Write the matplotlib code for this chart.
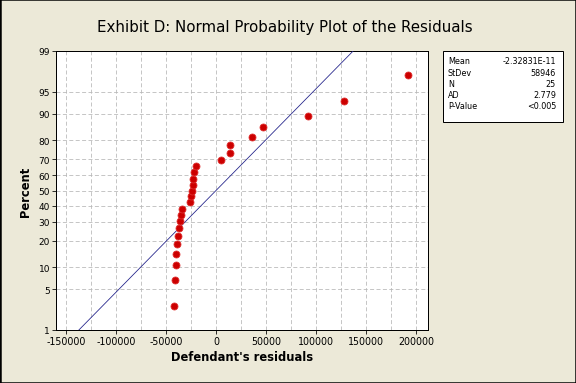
import numpy as np
import matplotlib
matplotlib.use("Agg")
import matplotlib.pyplot as plt
from matplotlib.patches import Rectangle
from statistics import NormalDist

# ---- data ----
residuals = [-41000, -41700, -40300, -39700, -39000, -38300, -37300, -36300, -35300, -33700,
             -26000, -25000, -24000, -23300, -22700, -22000, -20300,
             5000, 14000, 14300, 36000, 47000, 92000, 128000, 192000]
fit_mean = -2.32831e-11
fit_sd = 58946
stat_labels = ["Mean", "StDev", "N", "AD", "P-Value"]
stat_values = ["-2.32831E-11", "58946", "25", "2.779", "<0.005"]
y_ticks = [1, 5, 10, 20, 30, 40, 50, 60, 70, 80, 90, 95, 99]
x_ticks = [-150000, -100000, -50000, 0, 50000, 100000, 150000, 200000]

nd = NormalDist()
_inv = np.vectorize(lambda p: nd.inv_cdf(min(max(p / 100.0, 1e-9), 1 - 1e-9)), otypes=[float])
_cdf = np.vectorize(lambda z: nd.cdf(z) * 100.0, otypes=[float])

def fwd(p):
    return _inv(np.asarray(p, dtype=float))

def inv(z):
    return _cdf(np.asarray(z, dtype=float))

x = np.sort(np.array(residuals, dtype=float))
n = len(x)
pct = (np.arange(1, n + 1) - 0.3) / (n + 0.4) * 100.0

bg = "#ECE9D8"
fig = plt.figure(figsize=(8, 5.3333), dpi=72, facecolor=bg)
fig.add_artist(Rectangle((0, 0), 1, 1, transform=fig.transFigure, fill=False,
                         edgecolor="black", linewidth=2.5))

ax = fig.add_axes([56 / 576, 1 - 331 / 384, (428 - 56) / 576, (331 - 52) / 384])
ax.set_facecolor("white")
ax.set_yscale("function", functions=(fwd, inv))
ax.set_xlim(-160000, 212000)
ax.set_ylim(1, 99)

ax.set_yticks(y_ticks)
ax.set_yticklabels([str(v) for v in y_ticks])
ax.yaxis.set_minor_locator(matplotlib.ticker.NullLocator())
ax.set_xticks(x_ticks)
ax.set_xticklabels([str(v) for v in x_ticks])
ax.set_xticks(np.arange(-150000, 212000, 25000), minor=True)

ax.grid(True, which="both", axis="x", color="#b8b8b8", linestyle=(0, (5, 3)), linewidth=0.8)
ax.grid(True, which="major", axis="y", color="#b8b8b8", linestyle=(0, (5, 3)), linewidth=0.8)
ax.tick_params(axis="both", which="major", direction="out", length=4, width=0.8,
               labelsize=9.5, colors="black", pad=2)
ax.tick_params(axis="y", which="major", labelsize=9)
ax.tick_params(axis="x", which="minor", length=0)
for s in ax.spines.values():
    s.set_linewidth(1.0)
    s.set_color("black")

# fitted line
xl = np.array([-160000.0, 212000.0])
yl = np.array([nd.cdf((v - fit_mean) / fit_sd) * 100.0 for v in xl])
ax.plot(xl, yl, color="#22228a", linewidth=0.8, zorder=3)

ax.plot(x, pct, linestyle="none", marker="o", markersize=7,
        markerfacecolor="#cc0000", markeredgecolor="#e03030", markeredgewidth=0.8, zorder=4)

ax.set_xlabel("Defendant's residuals", fontsize=11.5, fontweight="bold", labelpad=4)
ax.set_ylabel("Percent", fontsize=11.5, fontweight="bold", labelpad=7)

fig.text(285 / 576, 1 - 28 / 384, "Exhibit D: Normal Probability Plot of the Residuals",
         ha="center", va="center", fontsize=15)

# stats box
fig.add_artist(Rectangle((443 / 576, 1 - 123 / 384), (563 - 443) / 576, (123 - 52) / 384,
                         transform=fig.transFigure, facecolor="white", edgecolor="black",
                         linewidth=1.0))
row_y = [62, 73.5, 84.7, 95.8, 106.8]
for lab, val, yy in zip(stat_labels, stat_values, row_y):
    fig.text(448 / 576, 1 - yy / 384, lab, ha="left", va="center", fontsize=8)
    fig.text(556 / 576, 1 - yy / 384, val, ha="right", va="center", fontsize=8)

fig.savefig("out.png", dpi=72, facecolor=bg)
